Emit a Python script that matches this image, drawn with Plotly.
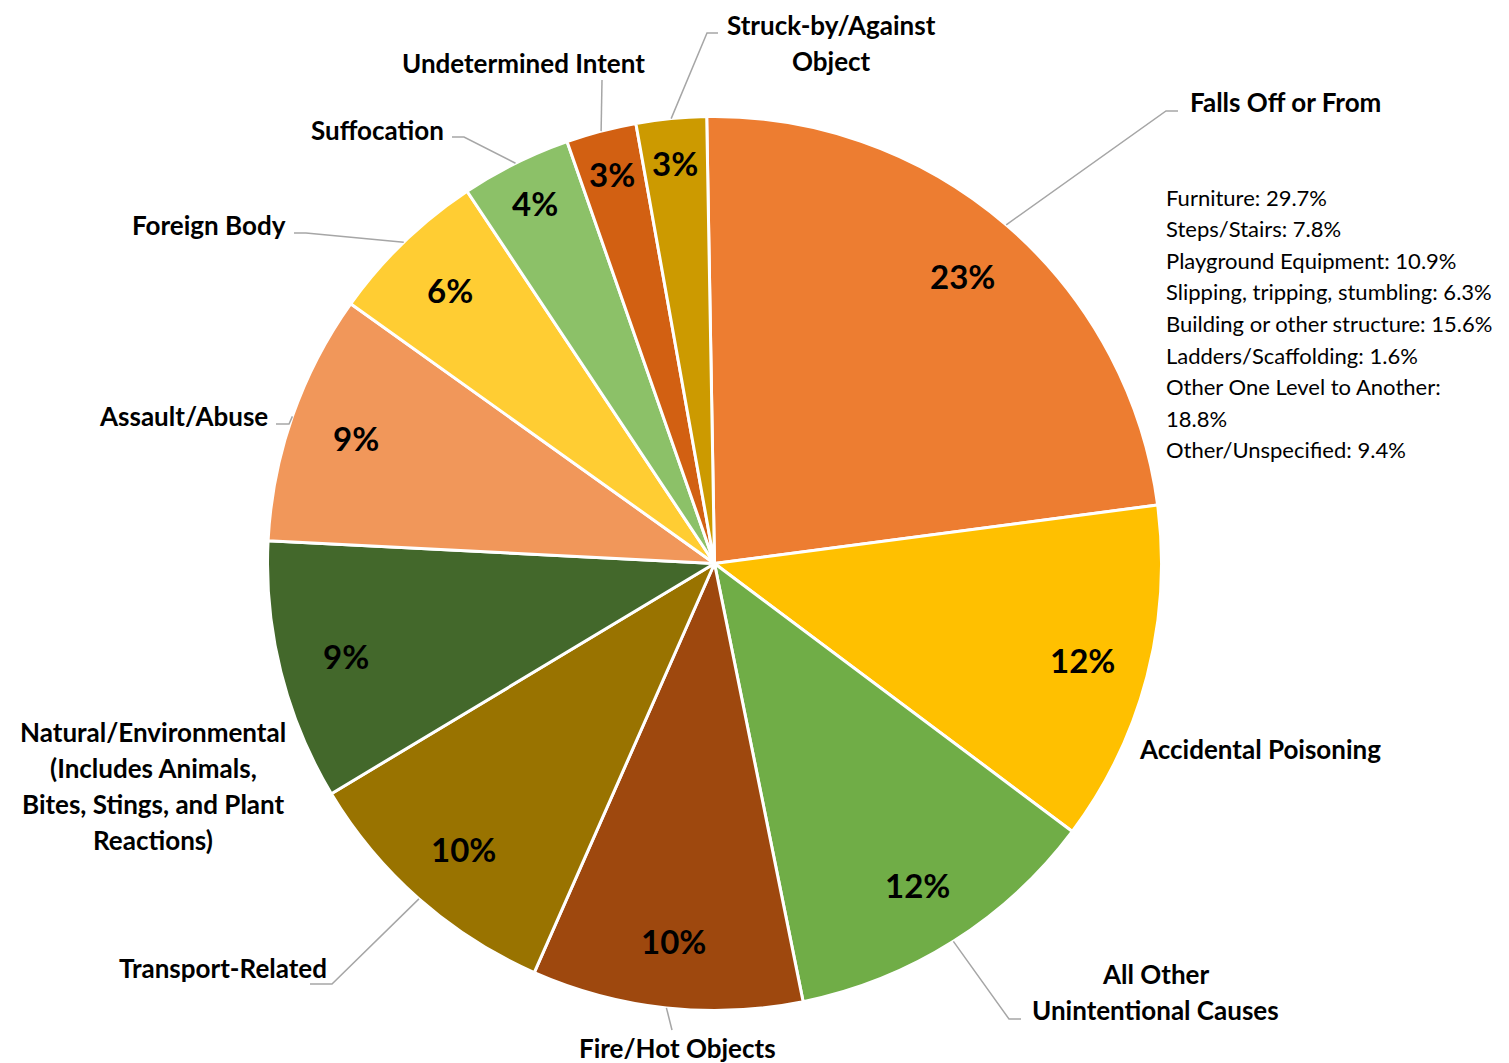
import math
import plotly.graph_objects as go

causes = [
    "Falls Off or From",
    "Accidental Poisoning",
    "All Other Unintentional Causes",
    "Fire/Hot Objects",
    "Transport-Related",
    "Natural/Environmental (Includes Animals, Bites, Stings, and Plant Reactions)",
    "Assault/Abuse",
    "Foreign Body",
    "Suffocation",
    "Undetermined Intent",
    "Struck-by/Against Object",
]
counts = [64, 34, 32, 27, 27, 26, 25, 16, 11, 7, 7]
slice_colors = ["#ED7D31", "#FFC000", "#70AD47", "#9E480E", "#997300", "#43682B",
                "#F1975A", "#FFCD33", "#8CC168", "#D26012", "#CC9A00"]
falls_detail = [
    "Furniture: 29.7%",
    "Steps/Stairs: 7.8%",
    "Playground Equipment: 10.9%",
    "Slipping, tripping, stumbling: 6.3%",
    "Building or other structure: 15.6%",
    "Ladders/Scaffolding: 1.6%",
    "Other One Level to Another:",
    "18.8%",
    "Other/Unspecified: 9.4%",
]

W, H = 1509, 1063
CX, CY, R = 714.5, 563.5, 447
ROT = -1
FONT = "Lato, 'Open Sans', sans-serif"

# label placement (pixel centres of each text line) and leader-line elbows
label_layout = {
    "Falls Off or From": (["Falls Off or From"], 1285, [102], [(1166, 111), (1178, 111)]),
    "Accidental Poisoning": (["Accidental Poisoning"], 1260, [749], None),
    "All Other Unintentional Causes": (["All Other", "Unintentional Causes"], 1155, [974, 1010],
                                       [(1009, 1019), (1021, 1019)]),
    "Fire/Hot Objects": (["Fire/Hot Objects"], 677, [1048], [(672, 1030)]),
    "Transport-Related": (["Transport-Related"], 223, [968], [(332, 984), (310, 984)]),
    "Natural/Environmental (Includes Animals, Bites, Stings, and Plant Reactions)": (
        ["Natural/Environmental", "(Includes Animals,", "Bites, Stings, and Plant", "Reactions)"],
        153, [732, 768, 804, 840], None),
    "Assault/Abuse": (["Assault/Abuse"], 183, [416], [(289, 424), (276, 424)]),
    "Foreign Body": (["Foreign Body"], 209, [225], [(306, 233), (294, 233)]),
    "Suffocation": (["Suffocation"], 377, [130], [(464, 137), (452, 137)]),
    "Undetermined Intent": (["Undetermined Intent"], 523, [63], [(602, 80)]),
    "Struck-by/Against Object": (["Struck-by/Against", "Object"], 831, [25, 61], [(707, 33), (718, 33)]),
}


def to_paper(x, y):
    return x / W, 1 - y / H


fig = go.Figure(go.Pie(
    labels=causes, values=counts, sort=False, direction="clockwise", rotation=ROT,
    marker=dict(colors=slice_colors, line=dict(color="white", width=3)),
    textinfo="none", showlegend=False,
    domain=dict(x=[(CX - R) / W, (CX + R) / W], y=[1 - (CY + R) / H, 1 - (CY - R) / H]),
))

annotations = []
shapes = []
total = sum(counts)
cum = 0
for cause, v in zip(causes, counts):
    mid = math.radians(ROT + (cum + v / 2) / total * 360)
    cum += v
    # percentage inside the slice; thin slices push the label further out
    rf = 0.85 if v / total > 0.05 else 0.9
    px, py = CX + rf * R * math.sin(mid), CY - rf * R * math.cos(mid)
    x, y = to_paper(px, py)
    annotations.append(dict(x=x, y=y, xref="paper", yref="paper", text=f"<b>{round(v / total * 100)}%</b>",
                            showarrow=False, xanchor="center", yanchor="middle",
                            font=dict(family=FONT, size=33, color="black")))
    # outside label
    lines, lx, lys, elbows = label_layout[cause]
    for line, ly in zip(lines, lys):
        x, y = to_paper(lx, ly)
        annotations.append(dict(x=x, y=y, xref="paper", yref="paper", text=f"<b>{line}</b>",
                                showarrow=False, xanchor="center", yanchor="middle",
                                font=dict(family=FONT, size=26, color="black")))
    if elbows:
        pts = [(CX + R * math.sin(mid), CY - R * math.cos(mid))] + elbows
        path = "M " + " L ".join("{:.5f},{:.5f}".format(*to_paper(a, b)) for a, b in pts)
        shapes.append(dict(type="path", path=path, xref="paper", yref="paper",
                           line=dict(color="#A6A6A6", width=1.5)))

for i, line in enumerate(falls_detail):
    x, y = to_paper(1164, 197 + i * 31.6)
    annotations.append(dict(x=x, y=y, xref="paper", yref="paper", text=line, showarrow=False,
                            xanchor="left", yanchor="middle", font=dict(family=FONT, size=22, color="black")))

fig.update_layout(
    width=W, height=H,
    margin=dict(l=0, r=0, t=0, b=0),
    paper_bgcolor="white", plot_bgcolor="white",
    annotations=annotations, shapes=shapes,
)

fig.write_html("out.html", config={"displayModeBar": False},
               post_script="document.body.style.margin='0';")
